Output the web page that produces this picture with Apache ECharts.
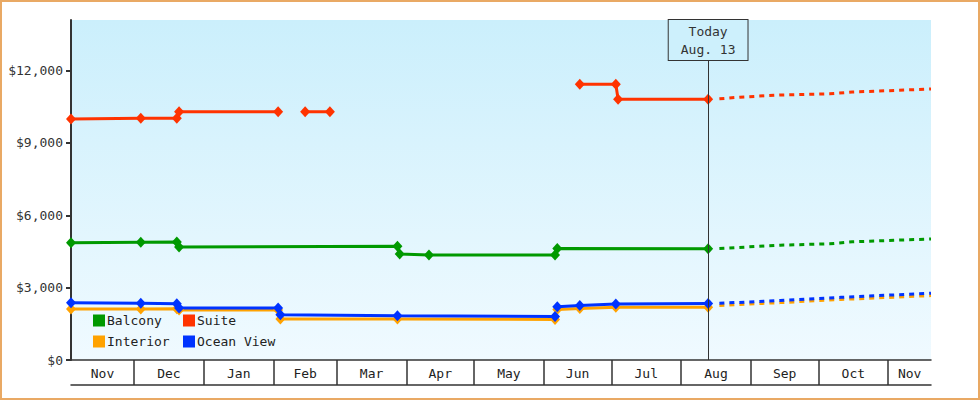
<!DOCTYPE html>
<html><head><meta charset="utf-8">
<script src="https://cdn.jsdelivr.net/npm/echarts@6/dist/echarts.min.js"></script>
<style>html,body{margin:0;padding:0;background:#fff}#c{width:980px;height:400px}</style>
</head><body><div id="c"></div>
<script>
// ---- data ----
const xMin = '2022-11-03';
const xMax = '2023-11-20';
const today = '2023-08-13';
const todayLabel = 'Today\nAug. 13';
const monthStarts = ['2022-11-01','2022-12-01','2023-01-01','2023-02-01','2023-03-01','2023-04-01','2023-05-01','2023-06-01','2023-07-01','2023-08-01','2023-09-01','2023-10-01','2023-11-01'];
const monthNames = ['Nov','Dec','Jan','Feb','Mar','Apr','May','Jun','Jul','Aug','Sep','Oct','Nov'];
const yTicks = [0, 3000, 6000, 9000, 12000];
const yMax = 14100;

const balcony = [['2022-11-03',4860],['2022-12-04',4885],['2022-12-20',4890],['2022-12-21',4690],['2023-03-28',4720],['2023-03-29',4400],['2023-04-11',4350],['2023-06-06',4350],['2023-06-07',4620],['2023-08-13',4610]];
const balconyProj = [['2023-08-18',4620],['2023-08-31',4690],['2023-09-14',4760],['2023-10-06',4820],['2023-10-16',4900],['2023-11-20',5020]];

const suite = [['2022-11-03',9990],['2022-12-04',10030],['2022-12-20',10030],['2022-12-21',10290],['2023-02-03',10290],['2023-02-09','-'],['2023-02-15',10290],['2023-02-26',10290],['2023-04-15','-'],['2023-06-17',11440],['2023-07-03',11440],['2023-07-04',10815],['2023-08-13',10815]];
const suiteProj = [['2023-08-18',10830],['2023-08-27',10900],['2023-09-14',10990],['2023-10-06',11040],['2023-10-16',11110],['2023-11-20',11240]];

const interior = [['2022-11-03',2110],['2022-12-04',2120],['2022-12-20',2130],['2022-12-21',2070],['2023-02-03',2070],['2023-02-04',1700],['2023-03-28',1700],['2023-06-06',1680],['2023-06-07',2090],['2023-06-17',2140],['2023-07-03',2185],['2023-08-13',2190]];
const interiorProj = [['2023-08-18',2260],['2023-09-14',2380],['2023-10-11',2510],['2023-11-20',2670]];

const oceanView = [['2022-11-03',2375],['2022-12-04',2350],['2022-12-20',2330],['2022-12-21',2160],['2023-02-03',2160],['2023-02-04',1880],['2023-03-28',1840],['2023-06-06',1800],['2023-06-07',2210],['2023-06-17',2260],['2023-07-03',2320],['2023-08-13',2340]];
const oceanViewProj = [['2023-08-18',2350],['2023-09-14',2470],['2023-10-11',2600],['2023-11-20',2770]];

// ---- helpers ----
function ts(s){const p=s.split('-').map(Number);return Date.UTC(p[0],p[1]-1,p[2]);}
function pts(arr){return arr.map(d=>[ts(d[0]), d[1]]);}
const FONT = 'DejaVu Sans Mono';
const minT = ts(xMin), maxT = ts(xMax);
const tickVals = monthStarts.map(ts).filter(v=>v>minT && v<maxT);
const labelVals = [], labelMap = {};
monthStarts.forEach((m,i)=>{
  const s = Math.max(ts(m), minT);
  const e = i+1<monthStarts.length ? Math.min(ts(monthStarts[i+1]), maxT) : maxT;
  const c = Math.round((s+e)/2);
  labelVals.push(c); labelMap[c] = monthNames[i];
});

function solid(name,color,data,extra){
  return Object.assign({type:'line',name,data:pts(data),symbol:'diamond',symbolSize:[10,11],showSymbol:true,
    lineStyle:{color,width:3},itemStyle:{color},connectNulls:false,clip:false,animation:false},extra||{});
}
function proj(name,color,data){
  return {type:'line',name,data:pts(data),symbol:'none',showSymbol:false,
    lineStyle:{color,width:3,type:[5,5]},itemStyle:{color},clip:false,animation:false};
}

const C = {Balcony:'#009900', Suite:'#ff3300', Interior:'#ffa200', 'Ocean View':'#0033ff'};

const chart = echarts.init(document.getElementById('c'), null, {renderer:'svg'});
const legendBase = {orient:'vertical',padding:0,itemWidth:12,itemHeight:12,itemGap:8,icon:'rect',selectedMode:false,
  itemStyle:{borderWidth:0},textStyle:{fontFamily:FONT,fontSize:13,color:'#222',lineHeight:12,padding:[0,0,0,-3]}};
chart.setOption({
  animation:false,
  backgroundColor:'#fff',
  graphic:[{type:'rect',shape:{x:1,y:1,width:978,height:398},style:{fill:'none',stroke:'#e9a964',lineWidth:2},silent:true}],
  grid:{left:71,top:20,right:49,bottom:40,show:true,borderWidth:0,
    backgroundColor:{type:'linear',x:0,y:0,x2:0,y2:1,colorStops:[{offset:0,color:'#cbeffc'},{offset:1,color:'#f0faff'}]}},
  legend:[
    Object.assign({},legendBase,{data:['Balcony','Interior'],left:93,top:314}),
    Object.assign({},legendBase,{data:['Suite','Ocean View'],left:183,top:314})
  ],
  xAxis:[
    {type:'value',min:minT,max:maxT,scale:true,
     axisLine:{show:true,onZero:false,lineStyle:{color:'#333',width:1.5}},
     axisTick:{show:true,customValues:tickVals,length:25,lineStyle:{color:'#333',width:1.5}},
     axisLabel:{show:true,customValues:labelVals,formatter:v=>labelMap[v]||'',margin:7,color:'#222',fontFamily:FONT,fontSize:13,hideOverlap:false},
     splitLine:{show:false}},
    {type:'value',min:minT,max:maxT,scale:true,position:'bottom',offset:25,
     axisLine:{show:true,onZero:false,lineStyle:{color:'#333',width:1.5}},
     axisTick:{show:false},axisLabel:{show:false},splitLine:{show:false}}
  ],
  yAxis:{type:'value',min:0,max:yMax,
    axisLine:{show:true,lineStyle:{color:'#333',width:2}},
    axisTick:{show:true,customValues:yTicks,length:5,lineStyle:{color:'#333',width:2}},
    axisLabel:{customValues:yTicks,formatter:v=>'$'+Number(v).toLocaleString('en-US'),margin:8,color:'#333',fontFamily:FONT,fontSize:13},
    splitLine:{show:false}},
  series:[
    solid('Balcony',C.Balcony,balcony,{markLine:{symbol:'none',silent:true,animation:false,
      lineStyle:{color:'#333',width:1,type:'solid'},
      label:{show:true,position:'end',distance:-40,formatter:todayLabel,color:'#333',fontFamily:FONT,fontSize:13,lineHeight:18,
        padding:[2,12,2,12],backgroundColor:'#cdf0fc',borderColor:'#333',borderWidth:1},
      emphasis:{disabled:true},
      data:[{xAxis:ts(today)}]}}),
    proj('Balcony',C.Balcony,balconyProj),
    solid('Suite',C.Suite,suite),
    proj('Suite',C.Suite,suiteProj),
    solid('Interior',C.Interior,interior),
    proj('Interior',C.Interior,interiorProj),
    solid('Ocean View',C['Ocean View'],oceanView),
    proj('Ocean View',C['Ocean View'],oceanViewProj)
  ]
});
</script></body></html>
